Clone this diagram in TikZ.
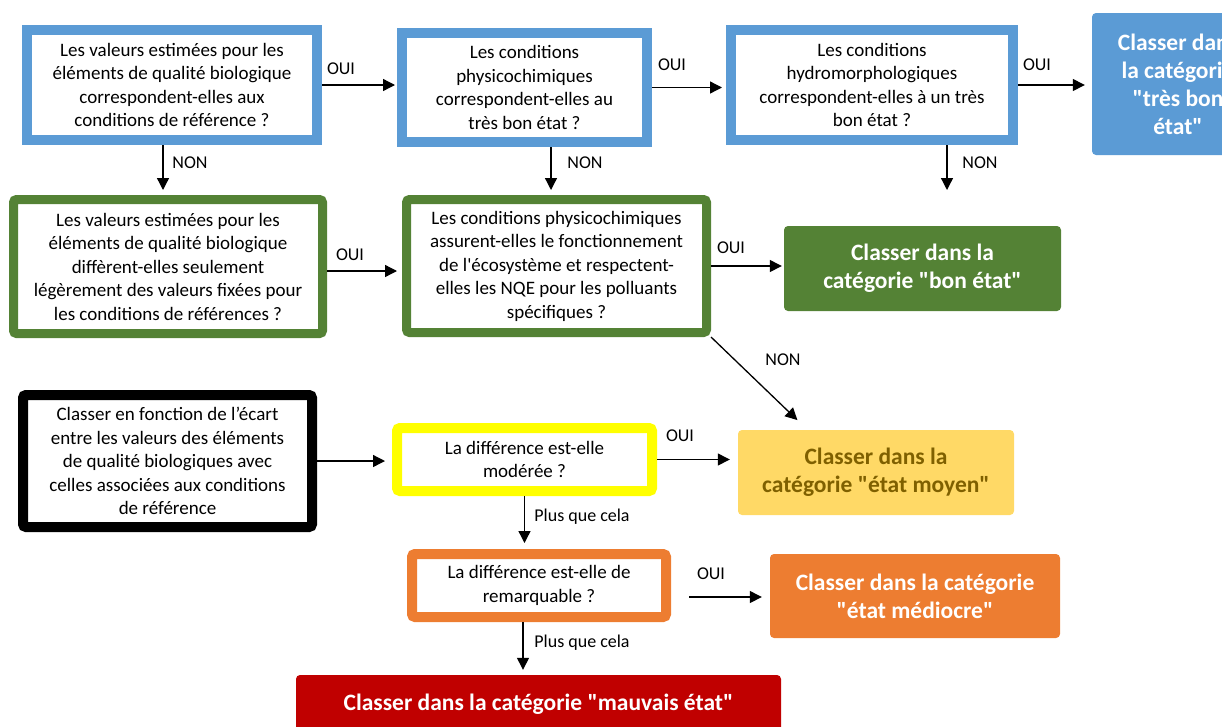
\documentclass[tikz,border=0pt]{standalone}
\usepackage{fontspec}
\setmainfont{Carlito}
\usetikzlibrary{arrows.meta,calc}
\definecolor{cblue}{HTML}{5B9BD5}
\definecolor{cgreen}{HTML}{548235}
\definecolor{cyel}{HTML}{FFFF00}
\definecolor{cora}{HTML}{ED7D31}
\definecolor{cmoy}{HTML}{FFD966}
\definecolor{cmoytext}{HTML}{7F6000}
\definecolor{cred}{HTML}{C00000}
\newcommand{\dq}{\textquotedbl}
\tikzset{
  qbox/.style={draw, fill=white, line width=10pt, outer sep=5pt, inner sep=0pt, align=center,
    font=\fontsize{19}{23.5}\selectfont, text=black},
  qthin/.style={line width=9pt, outer sep=4.5pt},
  resbox/.style={rounded corners=4pt, inner sep=0pt, align=center, text=white,
    font=\fontsize{23.5}{28}\selectfont\bfseries},
  arr/.style={-{Triangle[length=12pt,width=12pt]}, line width=1.3pt, draw=black},
  lbl/.style={font=\fontsize{18}{20}\selectfont, inner sep=0pt, text=black}
}
\begin{document}
\begin{tikzpicture}[x=1pt,y=-1pt]
\useasboundingbox (0,0) rectangle (1222,726);
\clip (0,0) rectangle (1222,726);
% row 1
\node[qbox, draw=cblue, minimum width=290pt, minimum height=110pt] (b1) at (172,85)
  {Les valeurs estimées pour les\\éléments de qualité biologique\\correspondent-elles aux\\conditions de référence ?};
\node[qbox, draw=cblue, minimum width=245pt, minimum height=109pt] (b2) at (524.5,87.5)
  {Les conditions\\physicochimiques\\correspondent-elles au\\très bon état ?};
\node[qbox, draw=cblue, minimum width=282pt, minimum height=110pt] (b3) at (872,85)
  {Les conditions\\hydromorphologiques\\correspondent-elles à un très\\bon état ?};
\node[resbox, fill=cblue, minimum width=172pt, minimum height=142pt] (tbe) at (1178,84)
  {Classer dans\\la catégorie\\\dq très bon\\état\dq};
% row 2
\node[qbox, qthin, draw=cgreen, rounded corners=3pt, minimum width=309pt, minimum height=134pt] (g1) at (168,266.5)
  {Les valeurs estimées pour les\\éléments de qualité biologique\\diffèrent-elles seulement\\légèrement des valeurs fixées pour\\les conditions de références ?};
\node[qbox, qthin, draw=cgreen, rounded corners=3pt, minimum width=300pt, minimum height=133pt] (g2) at (556.5,266)
  {Les conditions physicochimiques\\assurent-elles le fonctionnement\\de l\textquotesingle écosystème et respectent-\\elles les NQE pour les polluants\\spécifiques ?};
\node[resbox, fill=cgreen, minimum width=277pt, minimum height=85pt] (bon) at (922.5,268.5)
  {Classer dans la\\catégorie \dq bon état\dq};
% row 3
\node[qbox, draw=black, rounded corners=3pt, minimum width=289pt, minimum height=132pt] (blk) at (167.5,461)
  {Classer en fonction de l’écart\\entre les valeurs des éléments\\de qualité biologiques avec\\celles associées aux conditions\\de référence};
\node[qbox, draw=cyel, rounded corners=3pt, minimum width=255pt, minimum height=63pt] (yel) at (524.5,459.5)
  {La différence est-elle\\modérée ?};
\node[resbox, fill=cmoy, text=cmoytext, minimum width=276pt, minimum height=85pt] (moy) at (876,472.5)
  {Classer dans la\\catégorie \dq état moyen\dq};
% row 4
\node[qbox, draw=cora, rounded corners=3pt, minimum width=254pt, minimum height=63pt] (ora) at (539,585.5)
  {La différence est-elle de\\remarquable ?};
\node[resbox, fill=cora, minimum width=290pt, minimum height=84pt] (med) at (915,596)
  {Classer dans la catégorie\\\dq état médiocre\dq};
% row 5
\node[resbox, fill=cred, minimum width=485pt, minimum height=60pt] (red) at (538.5,705)
  {\raisebox{5pt}{Classer dans la catégorie \dq mauvais état\dq}};
\coordinate (n3) at (947,190);
% connectors
\draw[arr, shorten >=2pt] (b1.east) -- (b1.east -| b2.west);
\draw[arr, shorten >=4pt] (b2.east) -- (b2.east -| b3.west);
\draw[arr, shorten >=7pt] (b3.east) -- (b3.east -| tbe.west);
\draw[arr, shorten >=5pt] ([xshift=-9pt]b1.south) -- ([xshift=-9pt]b1.south |- g1.north);
\draw[arr, shorten >=5pt] ([xshift=26.5pt]b2.south) -- ([xshift=26.5pt]b2.south |- g2.north);
\draw[arr] ([xshift=75pt]b3.south) -- (n3);
\draw[arr, shorten >=5pt] ([yshift=-4.5pt]g1.east) -- ([yshift=-4.5pt]g1.east -| g2.west);
\draw[arr, shorten >=2pt] (g2.east) -- (g2.east -| bon.west);
\draw[arr, shorten >=14pt] (g2.south east) -- ([xshift=-68.5pt]moy.north);
\draw[arr, shorten >=7pt] (blk.east) -- (blk.east -| yel.west);
\draw[arr, shorten >=8pt] (yel.east) -- (yel.east -| moy.west);
\draw[arr, shorten >=6pt] (yel.south) -- (yel.south |- ora.north);
\draw[arr, shorten <=18pt, shorten >=8pt] ([yshift=-11.5pt]ora.east) -- ([yshift=-11.5pt]ora.east -| med.west);
\draw[arr, shorten >=5pt] ([xshift=-16pt]ora.south) -- ([xshift=-16pt]ora.south |- red.north);
% labels
\node[lbl] (l1) at (341,69) {OUI};
\node[lbl] (l2) at (672,65) {OUI};
\node[lbl] (l3) at (1037,65) {OUI};
\node[lbl] (l4) at (190,163) {NON};
\node[lbl] (l5) at (585,163) {NON};
\node[lbl] (l6) at (980,163) {NON};
\node[lbl] (l7) at (350,255) {OUI};
\node[lbl] (l8) at (731,248) {OUI};
\node[lbl] (l9) at (783,360) {NON};
\node[lbl] (l10) at (680,436) {OUI};
\node[lbl] (l11) at (582,517) {Plus que cela};
\node[lbl] (l12) at (711,574) {OUI};
\node[lbl] (l13) at (582,643) {Plus que cela};
\end{tikzpicture}
\end{document}
